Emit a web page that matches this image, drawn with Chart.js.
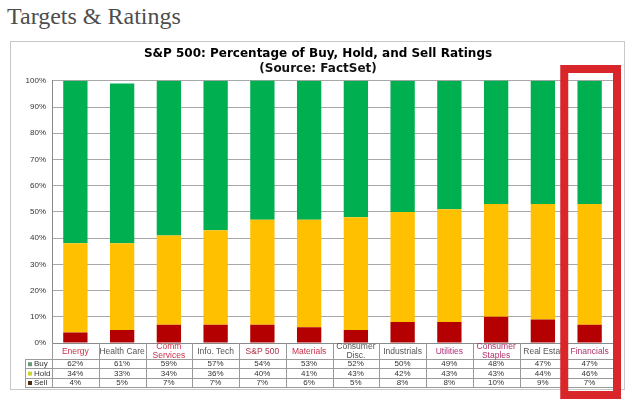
<!DOCTYPE html>
<html>
<head>
<meta charset="utf-8">
<script src="https://cdn.jsdelivr.net/npm/chart.js@4.4.1/dist/chart.umd.min.js"></script>
<style>
  body { margin: 0; background: #fff; }
  #heading { position: absolute; left: 7px; top: 3px; font-family: "Liberation Serif", serif; font-size: 24px; color: #4d4d4d; }
  #frame { position: absolute; left: 10px; top: 41px; width: 613px; height: 347px; border: 1px solid #c8c8c8; }
  #wrap { position: absolute; left: 0; top: 0; width: 638px; height: 399px; }
</style>
</head>
<body>
<div id="heading">Targets &amp; Ratings</div>
<div id="frame"></div>
<div id="wrap"><canvas id="chart"></canvas></div>
<script>
let sectors = ["Energy", "Health Care", ["Comm", "Services"], "Info. Tech", "S&P 500", "Materials",
    ["Consumer", "Disc."], "Industrials", "Utilities", ["Consumer", "Staples"], "Real Estat", "Financials"];
let labelColors = ["#c8304a", "#555555", "#c8304a", "#555555", "#b03048", "#c8304a",
    "#555555", "#555555", "#b0307a", "#b0306a", "#555555", "#b0306a"];
let buy = [62, 61, 59, 57, 54, 53, 52, 50, 49, 48, 47, 47];
let hold = [34, 33, 34, 36, 40, 41, 43, 42, 43, 43, 44, 46];
let sell = [4, 5, 7, 7, 7, 6, 5, 8, 8, 10, 9, 7];
let seriesNames = ["Buy", "Hold", "Sell"];
let seriesColors = ["#00b050", "#ffc000", "#b40000"];
let keyColors = ["#6a9a78", "#c8d830", "#4a2a10"];

const FONT = "'Liberation Sans', Arial, sans-serif";

// category labels, data table under the axis and the red box round Financials
const tablePlugin = {
    id: "ratingsTable",
    afterDraw(chart) {
        let ctx = chart.ctx;
        let xs = chart.scales.x;
        let area = chart.chartArea;
        let step = xs.getPixelForValue(1) - xs.getPixelForValue(0);
        let left = 25;
        let rowTop = area.bottom + 16;
        let rowH = 9.4;
        let bottom = rowTop + rowH * 3;

        ctx.save();
        ctx.strokeStyle = "#9a9a9a";
        ctx.lineWidth = 1;
        ctx.beginPath();
        for (let r = 0; r <= 3; r++) {
            let y = Math.round(rowTop + r * rowH) + 0.5;
            ctx.moveTo(left, y);
            ctx.lineTo(area.right, y);
        }
        for (let i = 0; i <= sectors.length; i++) {
            let bx = Math.round(xs.getPixelForValue(i) - step / 2) + 0.5;
            ctx.moveTo(bx, area.bottom);
            ctx.lineTo(bx, bottom);
        }
        ctx.moveTo(left + 0.5, rowTop);
        ctx.lineTo(left + 0.5, bottom);
        ctx.stroke();

        ctx.textAlign = "center";
        ctx.textBaseline = "middle";
        ctx.font = "8.5px " + FONT;
        sectors.forEach((lab, i) => {
            let lines = Array.isArray(lab) ? lab : [lab];
            let y0 = area.bottom + 8.5 - (lines.length - 1) * 4.5;
            ctx.fillStyle = labelColors[i];
            lines.forEach((t, k) => ctx.fillText(t, xs.getPixelForValue(i), y0 + k * 9));
        });

        let rows = [buy, hold, sell];
        ctx.font = "8px " + FONT;
        rows.forEach((vals, r) => {
            let cy = rowTop + r * rowH + rowH / 2 + 0.5;
            ctx.fillStyle = keyColors[r];
            ctx.fillRect(left + 3, cy - 2, 4, 4);
            ctx.fillStyle = "#333";
            ctx.textAlign = "left";
            ctx.fillText(seriesNames[r], left + 9, cy);
            ctx.textAlign = "center";
            vals.forEach((v, i) => {
                ctx.fillText(v + "%", xs.getPixelForValue(i), cy);
            });
        });

        // highlight box
        let fi = sectors.length - 1;
        let fx = xs.getPixelForValue(fi);
        ctx.strokeStyle = "#d8262b";
        ctx.lineWidth = 8;
        ctx.strokeRect(fx - step / 2 - 2, 69, step + 6, 326);
        ctx.restore();
    }
};

new Chart(document.getElementById("chart"), {
    type: "bar",
    data: {
        labels: sectors,
        datasets: [
            { label: "Sell", data: sell, backgroundColor: seriesColors[2] },
            { label: "Hold", data: hold, backgroundColor: seriesColors[1] },
            { label: "Buy", data: buy, backgroundColor: seriesColors[0] }
        ]
    },
    options: {
        responsive: true,
        maintainAspectRatio: false,
        animation: false,
        datasets: { bar: { categoryPercentage: 1, barPercentage: 0.52 } },
        layout: { padding: { left: 23, right: 25, top: 47, bottom: 40 } },
        plugins: {
            legend: { display: false },
            tooltip: { enabled: false },
            title: {
                display: true,
                text: "S&P 500: Percentage of Buy, Hold, and Sell Ratings",
                color: "#000",
                font: { family: "'DejaVu Sans', sans-serif", size: 12, weight: "bold" },
                padding: { top: 0, bottom: 0 }
            },
            subtitle: {
                display: true,
                text: "(Source: FactSet)",
                color: "#111",
                font: { family: "'DejaVu Sans', sans-serif", size: 12, weight: "bold" },
                padding: { top: 0, bottom: 5 }
            }
        },
        scales: {
            x: {
                stacked: true,
                grid: { display: false },
                border: { color: "#8a8a8a" },
                ticks: { display: false },
                afterFit: scale => { scale.height = 16; }
            },
            y: {
                stacked: true,
                min: 0,
                max: 100,
                grid: { color: "#a8a8a8", drawTicks: false },
                border: { color: "#8a8a8a" },
                ticks: {
                    stepSize: 10,
                    font: { family: FONT, size: 8 },
                    color: "#333",
                    padding: 6,
                    callback: v => v + "%"
                },
                afterFit: scale => { scale.width = 29; }
            }
        }
    },
    plugins: [tablePlugin]
});
</script>
</body>
</html>
